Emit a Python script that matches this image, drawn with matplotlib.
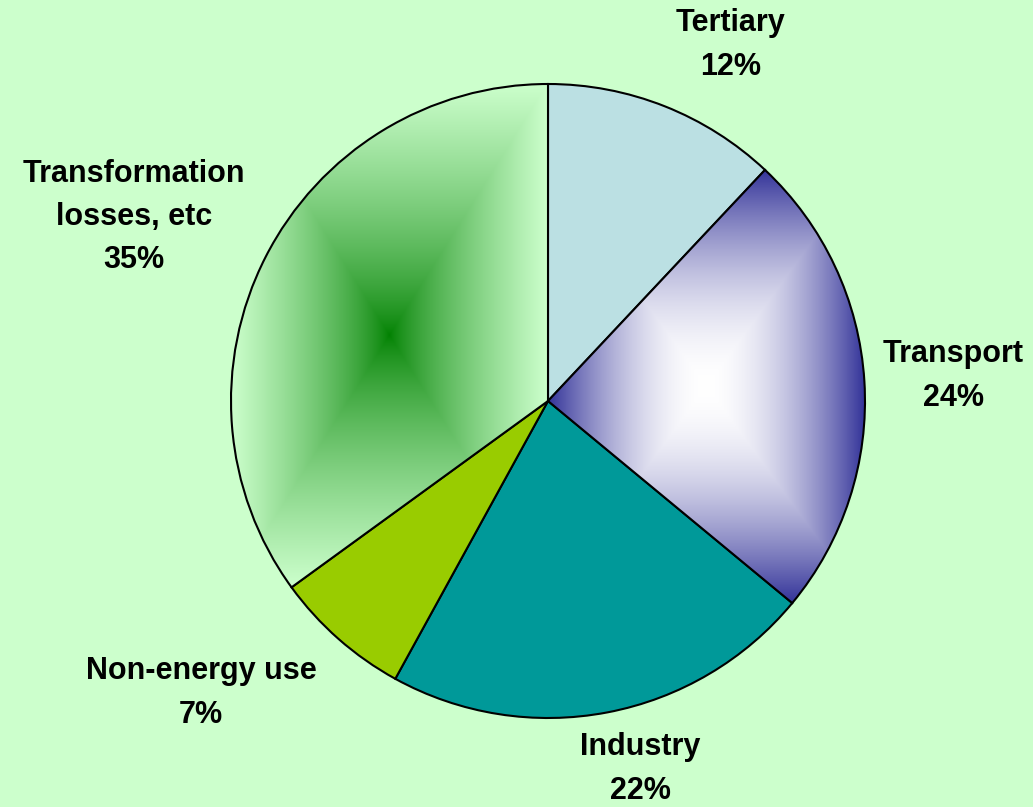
import numpy as np
import matplotlib
matplotlib.use("Agg")
import matplotlib.pyplot as plt

# energy use shares, %
categories = ["Tertiary", "Transport", "Industry", "Non-energy use", "Transformation\nlosses, etc"]
shares = [12, 24, 22, 7, 35]
colors = ["#BBE0E3", "#333399", "#009999", "#99CC00", "#CCFFCC"]

# label anchor points (pixels from top-left)
label_pos = [(731, 45), (953, 376), (640, 769), (201, 693), (134, 217)]

W, H = 1033, 807
bg = "#CCFFCC"

fig = plt.figure(figsize=(W / 100, H / 100), dpi=100, facecolor=bg)
ax = fig.add_axes([0, 0, 1, 1])
ax.set_facecolor(bg)

cx, cy, R = 548, H - 401, 317
wedges, _ = ax.pie(shares, colors=colors, startangle=90, counterclock=False,
                   center=(cx, cy), radius=R,
                   wedgeprops=dict(edgecolor="black", linewidth=1.5))


def box_gradient(wedge, c_in, c_out, power=1.0):
    # rectangular "from centre" fill over the wedge's bounding box
    t1, t2 = np.radians(wedge.theta1), np.radians(wedge.theta2)
    angs = np.linspace(t1, t2, 200)
    xs = np.concatenate([[cx], cx + R * np.cos(angs)])
    ys = np.concatenate([[cy], cy + R * np.sin(angs)])
    x0, x1, y0, y1 = xs.min(), xs.max(), ys.min(), ys.max()
    u = np.linspace(-1, 1, 400)
    U, V = np.meshgrid(u, u)
    t = np.maximum(np.abs(U), np.abs(V)) ** power
    a = np.array(matplotlib.colors.to_rgb(c_in))
    b = np.array(matplotlib.colors.to_rgb(c_out))
    img = a[None, None, :] * (1 - t[..., None]) + b[None, None, :] * t[..., None]
    im = ax.imshow(img, extent=(x0, x1, y0, y1), origin="lower",
                   interpolation="bilinear", zorder=wedge.get_zorder() + 0.1)
    im.set_clip_path(wedge)
    wedge.set_facecolor("none")
    wedge.set_zorder(wedge.get_zorder() + 0.2)


box_gradient(wedges[1], "#FFFFFF", "#333399", power=1.8)
box_gradient(wedges[4], "#008000", "#CCFFCC", power=0.75)

for name, val, (lx, ly) in zip(categories, shares, label_pos):
    ax.text(lx, H - ly, f"{name}\n{val}%", ha="center", va="center",
            fontsize=22, fontweight="bold", family="Liberation Sans",
            linespacing=1.57, color="black")

ax.set_xlim(0, W)
ax.set_ylim(0, H)
ax.set_aspect("auto")
ax.axis("off")

fig.savefig("out.png", dpi=100, facecolor=bg)
